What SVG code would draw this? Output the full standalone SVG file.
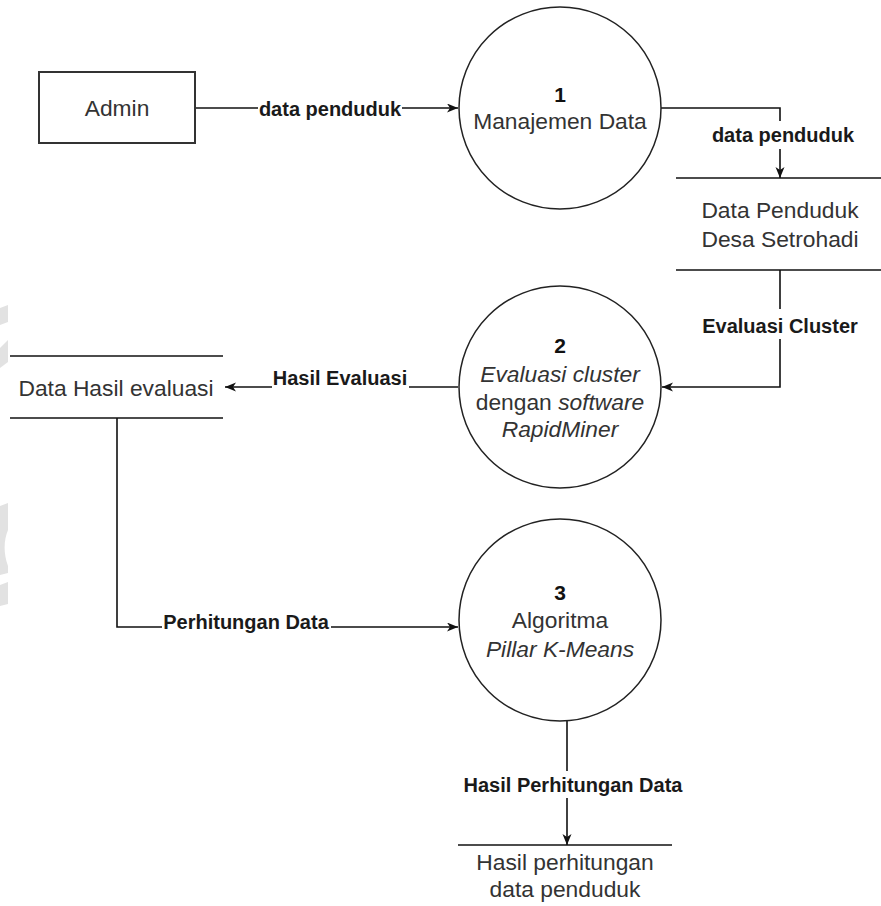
<svg xmlns="http://www.w3.org/2000/svg" width="881" height="906" viewBox="0 0 881 906">
<style>
.node{font-family:"Liberation Sans",Arial,sans-serif;font-size:22.8px;fill:#333;text-anchor:middle}
.num{font-weight:bold;font-size:21px;fill:#111}
.it{font-style:italic}
.lbl{font-family:"Liberation Sans",Arial,sans-serif;font-size:20px;font-weight:bold;fill:#1a1a1a;text-anchor:middle}
.bg{fill:#fff}
.edge{fill:none;stroke:#111;stroke-width:1.6}
.shape{fill:#fff;stroke:#222;stroke-width:1.5}
.store{stroke:#111;stroke-width:1.6}
.wm{fill:#e2e2e2}
</style>
<defs>
<marker id="arr" markerUnits="userSpaceOnUse" markerWidth="12" markerHeight="10" refX="11" refY="4.5" orient="auto">
<path d="M0,0 L11,4.5 L0,9 L3,4.5 Z" fill="#111"/>
</marker>
</defs>
<rect width="881" height="906" fill="#fff"/>
<g id="watermark">
<polygon class="wm" points="0,308 8,305 8,322 0,325"/>
<polygon class="wm" points="0,348 8,340 8,362 0,368"/>
<path class="wm" d="M0,506 L8,503 L8,530 C4,540 3,552 8,566 L8,573 L0,575 Z"/>
<polygon class="wm" points="0,585 8,582 8,604 0,606"/>
</g>
<g id="connectors">
<path class="edge" d="M195,108 H458" marker-end="url(#arr)"/>
<path class="edge" d="M661,108 H780 V178" marker-end="url(#arr)"/>
<path class="edge" d="M780,270 V387 H662" marker-end="url(#arr)"/>
<path class="edge" d="M458,387 H225" marker-end="url(#arr)"/>
<path class="edge" d="M117,418 V627 H458" marker-end="url(#arr)"/>
<path class="edge" d="M567,721 V845" marker-end="url(#arr)"/>
<rect class="bg" x="258" y="98" width="144" height="24"/>
<text class="lbl" x="330" y="116">data penduduk</text>
<rect class="bg" x="710" y="121" width="146" height="28"/>
<text class="lbl" x="783" y="142">data penduduk</text>
<rect class="bg" x="702" y="309" width="157" height="30"/>
<text class="lbl" x="780" y="333">Evaluasi Cluster</text>
<rect class="bg" x="272" y="367" width="137" height="22"/>
<text class="lbl" x="340" y="385">Hasil Evaluasi</text>
<rect class="bg" x="162" y="610" width="169" height="19"/>
<text class="lbl" x="246" y="629">Perhitungan Data</text>
<rect class="bg" x="462" y="771" width="224" height="27"/>
<text class="lbl" x="573" y="792">Hasil Perhitungan Data</text>
</g>
<g id="admin">
<rect x="39" y="72" width="156" height="71" fill="#fff" stroke="#333" stroke-width="2"/>
<text class="node" x="117" y="116">Admin</text>
</g>
<g id="process1">
<circle class="shape" cx="560" cy="108" r="101"/>
<text class="node num" x="560" y="102">1</text>
<text class="node" x="560" y="129">Manajemen Data</text>
</g>
<g id="store1">
<line class="store" x1="676" y1="178" x2="881" y2="178"/>
<line class="store" x1="676" y1="270" x2="881" y2="270"/>
<text class="node" x="780" y="218">Data Penduduk</text>
<text class="node" x="780" y="247">Desa Setrohadi</text>
</g>
<g id="process2">
<circle class="shape" cx="560" cy="387" r="101"/>
<text class="node num" x="560" y="353">2</text>
<text class="node it" x="560" y="382">Evaluasi cluster</text>
<text class="node" x="560" y="410">dengan <tspan class="it">software</tspan></text>
<text class="node it" x="560" y="437">RapidMiner</text>
</g>
<g id="store2">
<line class="store" x1="10" y1="356" x2="223" y2="356"/>
<line class="store" x1="10" y1="418" x2="223" y2="418"/>
<text class="node" x="116" y="396">Data Hasil evaluasi</text>
</g>
<g id="process3">
<circle class="shape" cx="560" cy="620" r="101"/>
<text class="node num" x="560" y="600">3</text>
<text class="node" x="560" y="628">Algoritma</text>
<text class="node it" x="560" y="657">Pillar K-Means</text>
</g>
<g id="store3">
<line class="store" x1="458" y1="845" x2="672" y2="845"/>
<text class="node" x="565" y="870">Hasil perhitungan</text>
<text class="node" x="565" y="897">data penduduk</text>
</g>
</svg>
